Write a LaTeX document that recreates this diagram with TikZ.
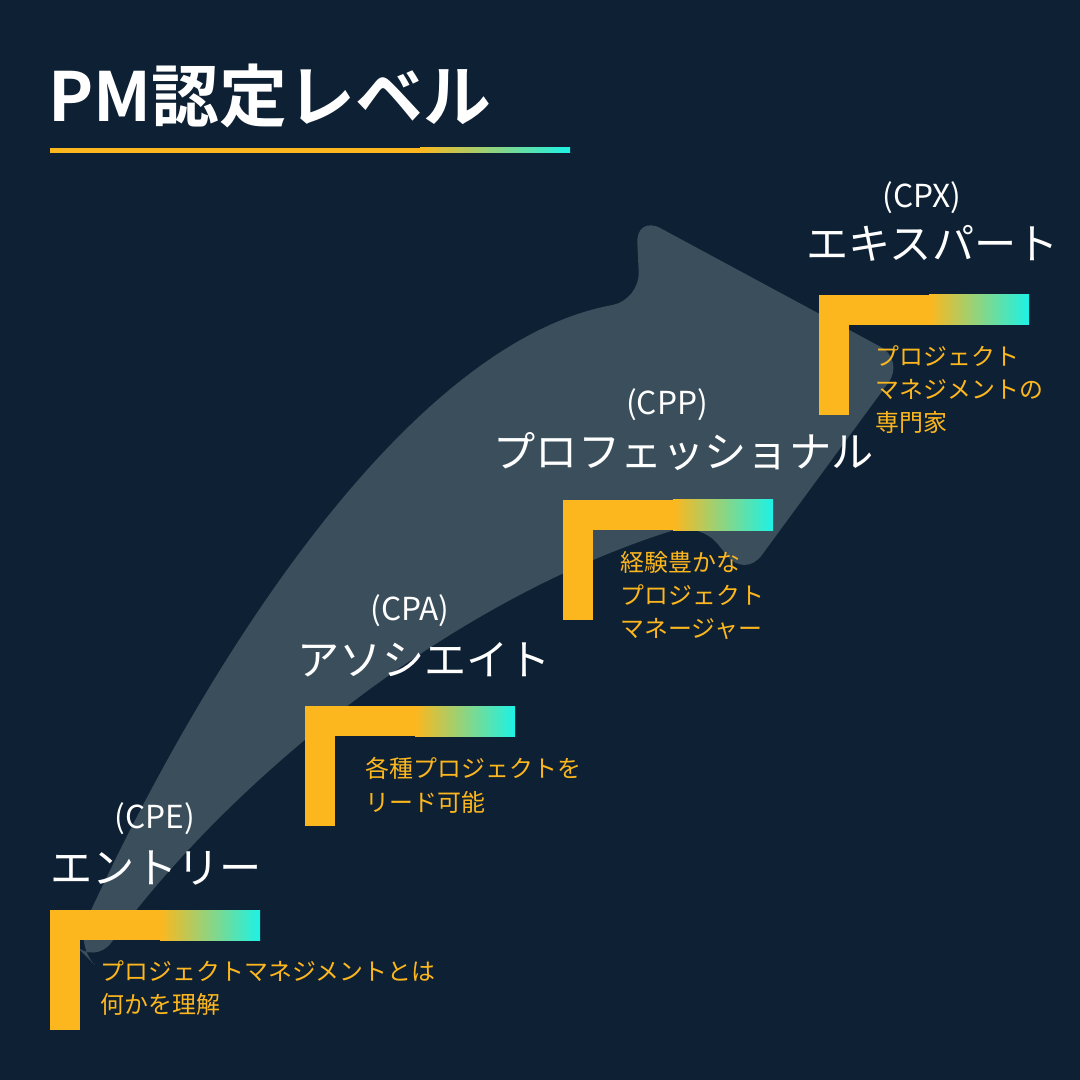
\documentclass[tikz,border=0pt]{standalone}
\usepackage{fontspec}
\setmainfont{Noto Sans CJK JP}
\newfontfamily\jpb{Noto Sans CJK JP Bold}
\definecolor{bg}{HTML}{0E2033}
\definecolor{arr}{HTML}{3A4E5C}
\definecolor{org}{HTML}{FDB71E}
\definecolor{cy}{HTML}{1CF2E6}
\begin{document}
\begin{tikzpicture}[x=0.01cm,y=-0.01cm,
 lvl/.style={anchor=base west,text=white,font=\fontsize{12}{14}\selectfont,inner sep=0},
 code/.style={anchor=base,text=white,font=\fontsize{9}{11}\selectfont,inner sep=0},
 desc/.style={anchor=north west,text=org,font=\fontsize{6.8}{9.4}\selectfont,inner sep=0,align=left}]
\fill[bg] (0,0) rectangle (1080,1080);
\useasboundingbox (0,0) rectangle (1080,1080);
% arrow
\fill[arr,rounded corners=8] (75,945) .. controls (220,630) and (420,340) .. (640,300)
 -- (636,215) -- (905,360) -- (745,578) -- (700,522)
 .. controls (450,600) and (230,780) .. (95,965) -- cycle;
% title
\node[anchor=base west,text=white,inner sep=0,font=\jpb\fontsize{19.3}{22}\selectfont] (title) at (48,122) {PM認定レベル};
\fill[org] (50,148) rectangle (420,153);
\shade[left color=org,right color=cy] (420,148) rectangle (570,153);
% steps
\foreach \x/\y/\n in {50/910/e,305/706/a,563/500/p,819/295/x}{
 \fill[org] (\x,\y) rectangle ++(30,120);
 \fill[org] (\x,\y) rectangle ++(110,30);
 \shade[left color=org,right color=cy] (\x+110,\y) rectangle ++(100,30);
}
\node[code] (ce) at (155,828) {(CPE)};
\node[lvl] (le) at (50,883) {エントリー};
\node[desc] (de) at (100,960) {プロジェクトマネジメントとは\\何かを理解};
\node[code] (ca) at (410,620) {(CPA)};
\node[lvl] (la) at (297,675) {アソシエイト};
\node[desc] (da) at (365,757) {各種プロジェクトを\\リード可能};
\node[code] (cp) at (667,415) {(CPP)};
\node[lvl] (lp) at (493,468) {プロフェッショナル};
\node[desc] (dp) at (620,551) {経験豊かな\\プロジェクト\\マネージャー};
\node[code] (cx) at (922,208) {(CPX)};
\node[lvl] (lx) at (806,260) {エキスパート};
\node[desc] (dx) at (875,345) {プロジェクト\\マネジメントの\\専門家};
\end{tikzpicture}
\end{document}
